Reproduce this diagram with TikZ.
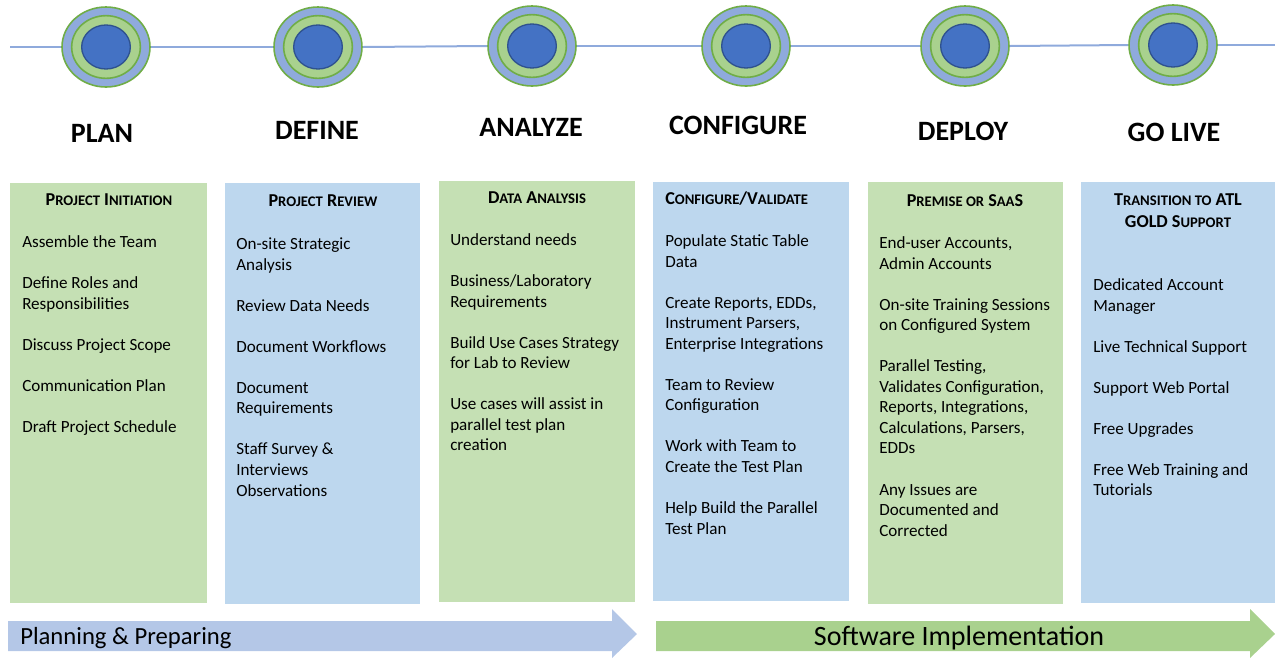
\documentclass[tikz,border=0pt]{standalone}
\usepackage{fontspec}
\setmainfont{Carlito}
\usetikzlibrary{shapes.geometric}
\definecolor{boxgreen}{HTML}{C5E0B4}
\definecolor{boxblue}{HTML}{BDD7EE}
\definecolor{arrblue}{HTML}{B4C7E7}
\definecolor{arrgreen}{HTML}{A9D18E}
\definecolor{ringblue}{HTML}{8FAADC}
\definecolor{ringgreen}{HTML}{A9D18E}
\definecolor{edgegreen}{HTML}{70AD47}
\definecolor{coreblue}{HTML}{4472C4}
\definecolor{coreedge}{HTML}{2F528F}
\newcommand\hsm[1]{{\fontsize{11}{13}\selectfont #1}}
\tikzset{
  outerring/.style={ellipse, fill=ringblue, draw=edgegreen, line width=1.2pt, minimum width=66pt, minimum height=60pt, inner sep=0pt},
  midring/.style={ellipse, fill=ringgreen, draw=edgegreen, line width=1.2pt, minimum width=51.5pt, minimum height=47pt, inner sep=0pt},
  corering/.style={ellipse, fill=coreblue, draw=coreedge, line width=1pt, minimum width=36.5pt, minimum height=33pt, inner sep=0pt},
  phase/.style={font=\fontsize{21}{25}\selectfont\bfseries, inner sep=0pt},
  hdr/.style={font=\fontsize{13.6}{16.5}\selectfont\bfseries, inner sep=0pt, align=center},
  body/.style={font=\fontsize{12.8}{15.4}\selectfont, inner sep=0pt, align=left, anchor=north west},
  timeline/.style={draw=ringblue, line width=1.5pt}
}
\begin{document}
\begin{tikzpicture}[x=0.75pt,y=-0.75pt]
\useasboundingbox (0,0) rectangle (1275,658);
% timeline
\coordinate (tlL) at (10,47);
\coordinate (tlR) at (1275,45);
\node[outerring] (o1) at (106,47) {};
\node[outerring] (o2) at (318,47) {};
\node[outerring] (o3) at (532,46) {};
\node[outerring] (o4) at (746,46) {};
\node[outerring] (o5) at (965,46) {};
\node[outerring] (o6) at (1173,45) {};
\draw[timeline] (tlL) -- (o1.west);
\draw[timeline] (o1.east) -- (o2.west);
\draw[timeline] (o2.east) -- (o3.west);
\draw[timeline] (o3.east) -- (o4.west);
\draw[timeline] (o4.east) -- (o5.west);
\draw[timeline] (o5.east) -- (o6.west);
\draw[timeline] (o6.east) -- (tlR);
\foreach \i in {1,...,6}{
  \node[midring] (m\i) at (o\i.center) {};
  \node[corering] (c\i) at (o\i.center) {};
}
% phase titles
\node[phase] (p1) at (102,133) {PLAN};
\node[phase] (p2) at (317,130) {DEFINE};
\node[phase] (p3) at (531,127) {ANALYZE};
\node[phase] (p4) at (738,125) {CONFIGURE};
\node[phase] (p5) at (963,131) {DEPLOY};
\node[phase] (p6) at (1174,132) {GO LIVE};
% column boxes
\fill[boxgreen] (10,183) rectangle (207,603);
\fill[boxblue] (225,183) rectangle (420,604);
\fill[boxgreen] (439,181) rectangle (635,602);
\fill[boxblue] (653,182) rectangle (849,601);
\fill[boxgreen] (868,182) rectangle (1063,604);
\fill[boxblue] (1081,182) rectangle (1275,603);
% headers
\node[hdr] (h1) at (109,200) {P\hsm{ROJECT} I\hsm{NITIATION}};
\node[hdr] (h2) at (323,201) {P\hsm{ROJECT} R\hsm{EVIEW}};
\node[hdr] (h3) at (537,198) {D\hsm{ATA} A\hsm{NALYSIS}};
\node[hdr,anchor=west] (h4) at (665,199) {C\hsm{ONFIGURE}/V\hsm{ALIDATE}};
\node[hdr] (h5) at (965,201) {P\hsm{REMISE OR} S\hsm{AA}S};
\node[hdr] (h6) at (1178,211) {T\hsm{RANSITION TO} ATL\\GOLD S\hsm{UPPORT}};
% bodies
\node[body] (b1) at (22,233) {\strut Assemble the Team\\[15.4pt]
Define Roles and\\Responsibilities\\[15.4pt]
Discuss Project Scope\\[15.4pt]
Communication Plan\\[15.4pt]
Draft Project Schedule};
\node[body] (b2) at (236,235) {\strut On-site Strategic\\Analysis\\[15.4pt]
Review Data Needs\\[15.4pt]
Document Workflows\\[15.4pt]
Document\\Requirements\\[15.4pt]
Staff Survey \&\\Interviews\\Observations};
\node[body] (b3) at (450,231) {\strut Understand needs\\[15.4pt]
Business/Laboratory\\Requirements\\[15.4pt]
Build Use Cases Strategy\\for Lab to Review\\[15.4pt]
Use cases will assist in\\parallel test plan\\creation};
\node[body] (b4) at (665,232) {\strut Populate Static Table\\Data\\[15.4pt]
Create Reports, EDDs,\\Instrument Parsers,\\Enterprise Integrations\\[15.4pt]
Team to Review\\Configuration\\[15.4pt]
Work with Team to\\Create the Test Plan\\[15.4pt]
Help Build the Parallel\\Test Plan};
\node[body] (b5) at (879,234) {\strut End-user Accounts,\\Admin Accounts\\[15.4pt]
On-site Training Sessions\\on Configured System\\[15.4pt]
Parallel Testing,\\Validates Configuration,\\Reports, Integrations,\\Calculations, Parsers,\\EDDs\\[15.4pt]
Any Issues are\\Documented and\\Corrected};
\node[body] (b6) at (1093,276) {\strut Dedicated Account\\Manager\\[15.4pt]
Live Technical Support\\[15.4pt]
Support Web Portal\\[15.4pt]
Free Upgrades\\[15.4pt]
Free Web Training and\\Tutorials};
% bottom arrows
\fill[arrblue] (8,621) -- (612,621) -- (612,609) -- (637,634) -- (612,658) -- (612,651) -- (8,651) -- cycle;
\fill[arrgreen] (656,621) -- (1250,621) -- (1250,609) -- (1275,634) -- (1250,658) -- (1250,651) -- (656,651) -- cycle;
\node[font=\fontsize{18.5}{22}\selectfont, inner sep=0pt, anchor=west] (a1) at (20,638) {Planning \& Preparing};
\node[font=\fontsize{21}{25}\selectfont, inner sep=0pt] (a2) at (959,638) {Software Implementation};
\end{tikzpicture}
\end{document}
